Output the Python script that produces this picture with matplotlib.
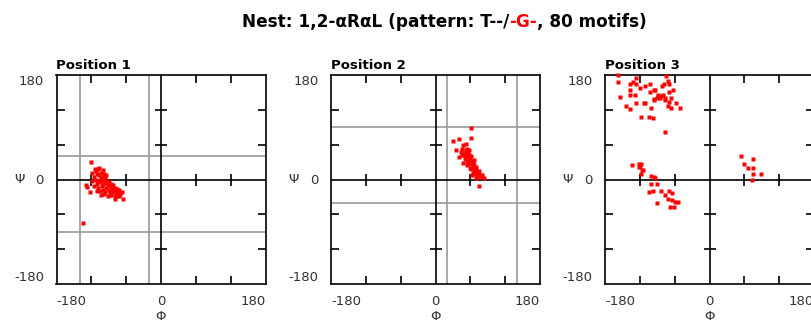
import matplotlib
matplotlib.use("Agg")
import matplotlib.pyplot as plt

# ---------------- data ----------------
title_parts = ["Nest: 1,2-\u03b1R\u03b1L (pattern: T--/", "-G-", ", 80 motifs)"]
title_colors = ["black", "red", "black"]
panel_titles = ["Position 1", "Position 2", "Position 3"]

tick_vals = [-180, 0, 180]
tick_labels = ["-180", "0", "180"]
minor_ticks = [-120, -60, 60, 120]

# gray region bounds per panel (phi lines, psi lines)
region_phi = [[-140, -20], [20, 140], []]
region_psi = [[40, -90], [90, -40], []]

p1_phi = [-120, -130, -127, -134, -122, -80, -65, -112, -108, -104, -100, -110, -106, -102, -98,
          -115, -112, -108, -104, -100, -96, -94, -110, -105, -100, -96, -92, -90, -88, -86,
          -84, -82, -80, -78, -76, -74, -72, -70, -85, -90, -95, -100, -105, -98, -92,
          -86, -80, -75, -118, -115, -108, -102, -118, -114, -106, -96, -88, -84, -78, -72,
          -68, -82, -94, -104, -110]
p1_psi = [30, -10, -13, -75, -22, -33, -33, 15, 18, 12, 16, 10, 8, 5, 10,
          5, 0, -2, 2, 0, 4, -2, -8, -5, -8, -6, -10, -4, -12, -8,
          -15, -18, -14, -20, -16, -22, -18, -25, -20, -18, -15, -18, -20, -25, -28,
          -26, -28, -28, -2, -12, -15, -12, 12, 18, 20, -22, -24, -22, -24, -28,
          -22, -10, 8, -26, -20]

p2_phi = [62, 62, 30, 41, 83, 75, 36, 48, 52, 46, 52, 55, 48, 52, 56,
          58, 50, 54, 58, 60, 56, 62, 64, 60, 58, 64, 66, 68, 62, 66,
          70, 72, 68, 74, 76, 72, 78, 80, 70, 54, 50, 45, 60, 65, 75,
          80, 58, 62, 66, 44, 41, 55, 63, 70, 48]
p2_psi = [88, 72, 66, 69, 2, -11, 50, 60, 62, 52, 50, 52, 46, 45, 46,
          42, 40, 38, 38, 35, 32, 32, 28, 26, 28, 22, 25, 20, 18, 15,
          16, 12, 10, 10, 6, 5, 8, 4, 22, 30, 36, 42, 20, 12, 14,
          8, 50, 40, 34, 48, 38, 25, 8, 2, 28]

p3_phi = [-158, -158, -75, -126, -132, -137, -126, -137, -111, -102, -96, -94, -82, -78, -69,
          -63, -69, -137, -128, -155, -88, -84, -77, -66, -95, -76, -126, -111, -69, -58,
          -144, -137, -100, -72, -66, -50, -118, -105, -97, -76, -89, -86, -80, -91, -103,
          -112, -95, -72, -120,
          -134, -122, -118, -122, -119, -116, -114, -118, -100, -96, -94, -100, -90, -105, -97,
          -84, -76, -69, -65, -71, -65, -60, -55, -90, -68, -62,
          54, 59, 75, 67, 75, 75, 88, 73]
p3_psi = [180, 168, 179, 174, 168, 164, 164, 155, 161, 164, 155, 155, 161, 164, 165,
          155, 151, 145, 145, 142, 145, 143, 141, 141, 137, 137, 132, 132, 134, 132,
          127, 121, 124, 127, 124, 124, 108, 108, 106, 82, 143, 141, 145, 140, 150,
          132, 138, 170, 158,
          25, 27, 27, 22, 23, 17, 17, 9, 6, 4, 2, -7, -7, -22, -20,
          -20, -27, -20, -24, -33, -36, -39, -39, -40, -47, -47,
          40, 27, 35, 20, 20, 9, 9, -1]

panels_phi = [p1_phi, p2_phi, p3_phi]
panels_psi = [p1_psi, p2_psi, p3_psi]

# ---------------- figure ----------------
W, H = 811, 324
fig = plt.figure(figsize=(W / 100, H / 100), dpi=100)
plt.rcParams['font.family'] = ['DejaVu Sans']

lefts_px = [56.5, 331, 605]
top_px, bot_px, w_px = 75, 284, 209
label_color = "#333333"

for i in range(3):
    ax = fig.add_axes([lefts_px[i] / W, (H - bot_px) / H, w_px / W, (bot_px - top_px) / H])
    ax.set_xlim(-180, 180)
    ax.set_ylim(-180, 180)
    for s in ax.spines.values():
        s.set_linewidth(1.2)
        s.set_color("black")
    # gray region lines
    for v in region_phi[i]:
        ax.axvline(v, color="#999999", lw=1.2, zorder=1)
    for v in region_psi[i]:
        ax.axhline(v, color="#999999", lw=1.2, zorder=1)
    # zero cross
    ax.axvline(0, color="black", lw=1.2, zorder=2)
    ax.axhline(0, color="black", lw=1.2, zorder=2)
    for t in minor_ticks:
        ax.plot(0, t, marker="_", ms=9, mew=1.2, color="black", zorder=2)
        ax.plot(t, 0, marker="|", ms=9, mew=1.2, color="black", zorder=2)
    # ticks
    ax.set_xticks(tick_vals)
    ax.set_yticks(tick_vals)
    ax.set_xticklabels(tick_labels)
    ax.set_yticklabels(tick_labels)
    ax.set_xticks(minor_ticks, minor=True)
    ax.set_yticks(minor_ticks, minor=True)
    ax.tick_params(which="major", length=0, labelsize=9.5, labelcolor=label_color, pad=8)
    ax.tick_params(axis="y", which="major", pad=9)
    ax.tick_params(which="minor", direction="in", length=6, width=1.2,
                   top=True, right=True, bottom=True, left=True)
    xl = ax.get_xticklabels()
    xl[0].set_ha("left")
    xl[2].set_ha("right")
    yl = ax.get_yticklabels()
    yl[0].set_va("bottom")
    yl[2].set_va("top")
    ax.set_xlabel("\u03a6", fontsize=9.5, color=label_color, va="top")
    ax.xaxis.set_label_coords(0.5, -0.125)
    ax.set_ylabel("\u03a8", fontsize=9.5, color=label_color, rotation=0, va="center", ha="center")
    ax.yaxis.set_label_coords(-37.5 / w_px, 0.5)
    ax.set_title(panel_titles[i], loc="left", fontsize=9.5, fontweight="bold", pad=4)
    # points
    ax.plot(panels_phi[i], panels_psi[i], linestyle="none", marker="s", ms=2.2,
            mec="none", color="red", zorder=5, clip_on=False)

# title composed from parts with red segment
fig.canvas.draw()
renderer = fig.canvas.get_renderer()
texts = []
for txt, col in zip(title_parts, title_colors):
    t = fig.text(0, 1 - 22 / H, txt, color=col, fontsize=12.2, fontweight="bold",
                 ha="left", va="center")
    texts.append(t)
widths = [t.get_window_extent(renderer).width for t in texts]
total = sum(widths)
x0 = 444 - total / 2
for t, w in zip(texts, widths):
    t.set_x(x0 / W)
    x0 += w

fig.savefig("out.png", dpi=100)
